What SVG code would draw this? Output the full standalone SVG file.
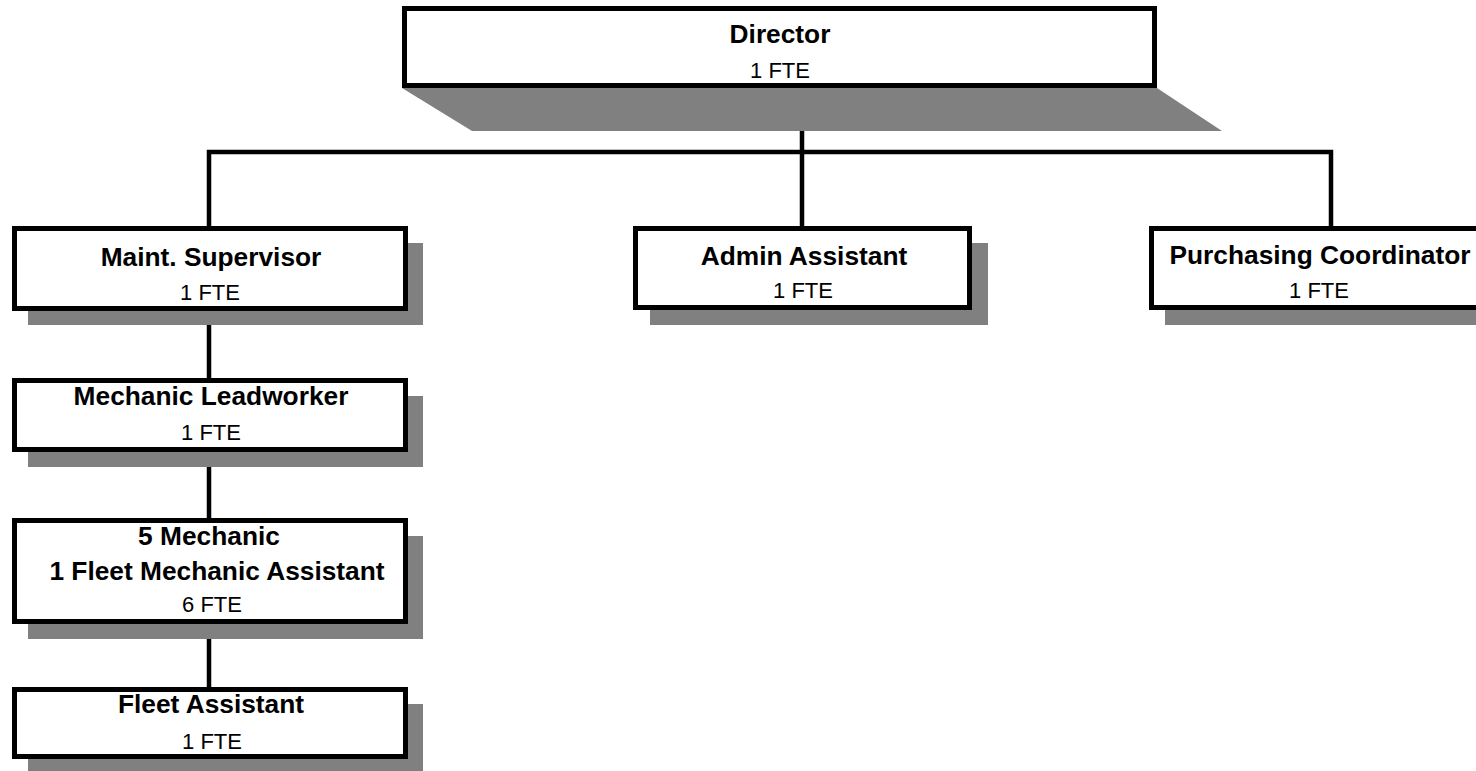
<svg xmlns="http://www.w3.org/2000/svg" width="1476" height="771" viewBox="0 0 1476 771">
<style>
.box{fill:#ffffff;stroke:#000000;stroke-width:5}
.sh{fill:#808080;stroke:none}
.ln{fill:none;stroke:#000000;stroke-width:4.5}
.t{font-family:"Liberation Sans",Arial,sans-serif;font-weight:bold;font-size:26.3px;fill:#000;text-anchor:middle}
.s{font-family:"Liberation Sans",Arial,sans-serif;font-size:22px;fill:#000;text-anchor:middle}
</style>
<rect width="1476" height="771" fill="#ffffff"/>
<g id="connectors">
<polyline class="ln" points="209,226 209,152 1331,152 1331,226"/>
<line class="ln" x1="802" y1="88" x2="802" y2="226"/>
<line class="ln" x1="209" y1="311" x2="209" y2="378"/>
<line class="ln" x1="209" y1="452" x2="209" y2="518"/>
<line class="ln" x1="209" y1="624" x2="209" y2="687"/>
</g>
<g id="director">
<polygon class="sh" points="402,88 1157,88 1222,131 472,131"/>
<rect class="box" x="404.5" y="8.5" width="750" height="77"/>
<text class="t" x="780" y="43">Director</text>
<text class="s" x="780" y="78">1 FTE</text>
</g>
<g id="maint-supervisor">
<rect class="sh" x="28" y="243" width="395" height="82"/>
<rect class="box" x="14.5" y="228.5" width="391" height="80"/>
<text class="t" x="211" y="266">Maint. Supervisor</text>
<text class="s" x="210" y="300">1 FTE</text>
</g>
<g id="admin-assistant">
<rect class="sh" x="650" y="243" width="338" height="82"/>
<rect class="box" x="635.5" y="228.5" width="334" height="79"/>
<text class="t" x="804" y="265">Admin Assistant</text>
<text class="s" x="803" y="298">1 FTE</text>
</g>
<g id="purchasing-coordinator">
<rect class="sh" x="1165" y="243" width="340" height="82"/>
<rect class="box" x="1151.5" y="228.5" width="340" height="79"/>
<text class="t" x="1320" y="264">Purchasing Coordinator</text>
<text class="s" x="1319" y="298">1 FTE</text>
</g>
<g id="mechanic-leadworker">
<rect class="sh" x="28" y="396" width="395" height="71"/>
<rect class="box" x="14.5" y="380.5" width="391" height="69"/>
<text class="t" x="211" y="405">Mechanic Leadworker</text>
<text class="s" x="211" y="440">1 FTE</text>
</g>
<g id="mechanics">
<rect class="sh" x="28" y="536" width="395" height="103"/>
<rect class="box" x="14.5" y="520.5" width="391" height="101"/>
<text class="t" x="209" y="545">5 Mechanic</text>
<text class="t" x="217" y="580">1 Fleet Mechanic Assistant</text>
<text class="s" x="212" y="612">6 FTE</text>
</g>
<g id="fleet-assistant">
<rect class="sh" x="28" y="704" width="395" height="68"/>
<rect class="box" x="14.5" y="689.5" width="391" height="67"/>
<text class="t" x="211" y="713">Fleet Assistant</text>
<text class="s" x="212" y="749">1 FTE</text>
</g>
</svg>
